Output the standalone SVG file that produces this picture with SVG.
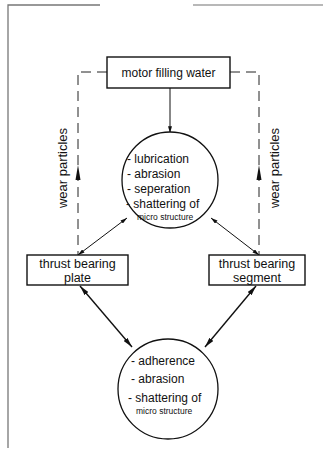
<svg xmlns="http://www.w3.org/2000/svg" width="323" height="454" viewBox="0 0 323 454">
<defs>
<style>
.frame{stroke:#777;stroke-width:1.3;fill:none}
.box{fill:#fff;stroke:#111;stroke-width:1.4}
.circ{fill:#fff;stroke:#111;stroke-width:1.3}
.dash{fill:none;stroke:#222;stroke-width:1;stroke-dasharray:10 6}
.line{fill:none;stroke:#111;stroke-width:1}
.heavy{fill:none;stroke:#111;stroke-width:1.4}
.t{font-family:"Liberation Sans",Arial,sans-serif;fill:#111}
.lab{font-size:12px}
.big{font-size:13px}
.box-t{font-size:12.5px}
.small{font-size:8.5px}
</style>
<marker id="ah" viewBox="0 0 10 6" refX="10" refY="3" markerWidth="7" markerHeight="4" orient="auto-start-reverse" markerUnits="userSpaceOnUse">
<path d="M0,0 L10,3 L0,6 Z" fill="#111"/>
</marker>
<marker id="ahb" viewBox="0 0 12 6" refX="12" refY="3" markerWidth="10" markerHeight="5" orient="auto-start-reverse" markerUnits="userSpaceOnUse">
<path d="M0,0 L12,3 L0,6 Z" fill="#111"/>
</marker>
</defs>
<rect width="323" height="454" fill="#fff"/>
<g id="frame">
<path class="frame" d="M8,448 L8,5 L100,5"/>
<path class="frame" d="M193,5 L323,5" stroke-opacity="0.7"/>
</g>
<g id="connectors">
<path class="dash" d="M107,72 L78,72 L78,255"/>
<path class="dash" d="M230,72 L259,72 L259,255"/>
<path d="M78,165 L75.5,180 L80.5,180 Z" fill="#111"/>
<path d="M259,165 L256.5,180 L261.5,180 Z" fill="#111"/>
<line class="line" x1="170" y1="88" x2="170" y2="133" marker-end="url(#ah)"/>
<line class="line" x1="127" y1="218" x2="78" y2="255" marker-start="url(#ah)" marker-end="url(#ah)"/>
<line class="line" x1="211" y1="218" x2="259" y2="255" marker-start="url(#ah)" marker-end="url(#ah)"/>
<line class="heavy" x1="80" y1="286" x2="132" y2="347" marker-start="url(#ahb)" marker-end="url(#ahb)"/>
<line class="heavy" x1="256" y1="286" x2="205" y2="347" marker-start="url(#ahb)" marker-end="url(#ahb)"/>
</g>
<g id="wear-left">
<text class="t big" transform="translate(67,168) rotate(-90)" text-anchor="middle">wear particles</text>
</g>
<g id="wear-right">
<text class="t big" transform="translate(279,168) rotate(-90)" text-anchor="middle">wear particles</text>
</g>
<g id="motor-water">
<rect class="box" x="107" y="57" width="123" height="31"/>
<text class="t lab" x="168.5" y="76.5" text-anchor="middle">motor filling water</text>
</g>
<g id="fluid-effects">
<circle class="circ" cx="170" cy="180" r="48"/>
<text class="t lab" x="127" y="163">- lubrication</text>
<text class="t lab" x="127" y="178">- abrasion</text>
<text class="t lab" x="127" y="193">- seperation</text>
<text class="t lab" x="126" y="208">- shattering of</text>
<text class="t small" x="137" y="220">micro structure</text>
</g>
<g id="plate">
<rect class="box" x="27" y="255" width="101" height="30"/>
<text class="t box-t" x="77.5" y="268" text-anchor="middle">thrust bearing</text>
<text class="t box-t" x="77.5" y="281.5" text-anchor="middle">plate</text>
</g>
<g id="segment">
<rect class="box" x="209" y="255" width="96" height="30"/>
<text class="t box-t" x="257" y="268" text-anchor="middle">thrust bearing</text>
<text class="t box-t" x="257" y="281.5" text-anchor="middle">segment</text>
</g>
<g id="contact-effects">
<circle class="circ" cx="168" cy="389" r="50"/>
<text class="t lab" x="131" y="365">- adherence</text>
<text class="t lab" x="131" y="383">- abrasion</text>
<text class="t lab" x="128" y="402">- shattering of</text>
<text class="t small" x="136" y="414">micro structure</text>
</g>
</svg>
